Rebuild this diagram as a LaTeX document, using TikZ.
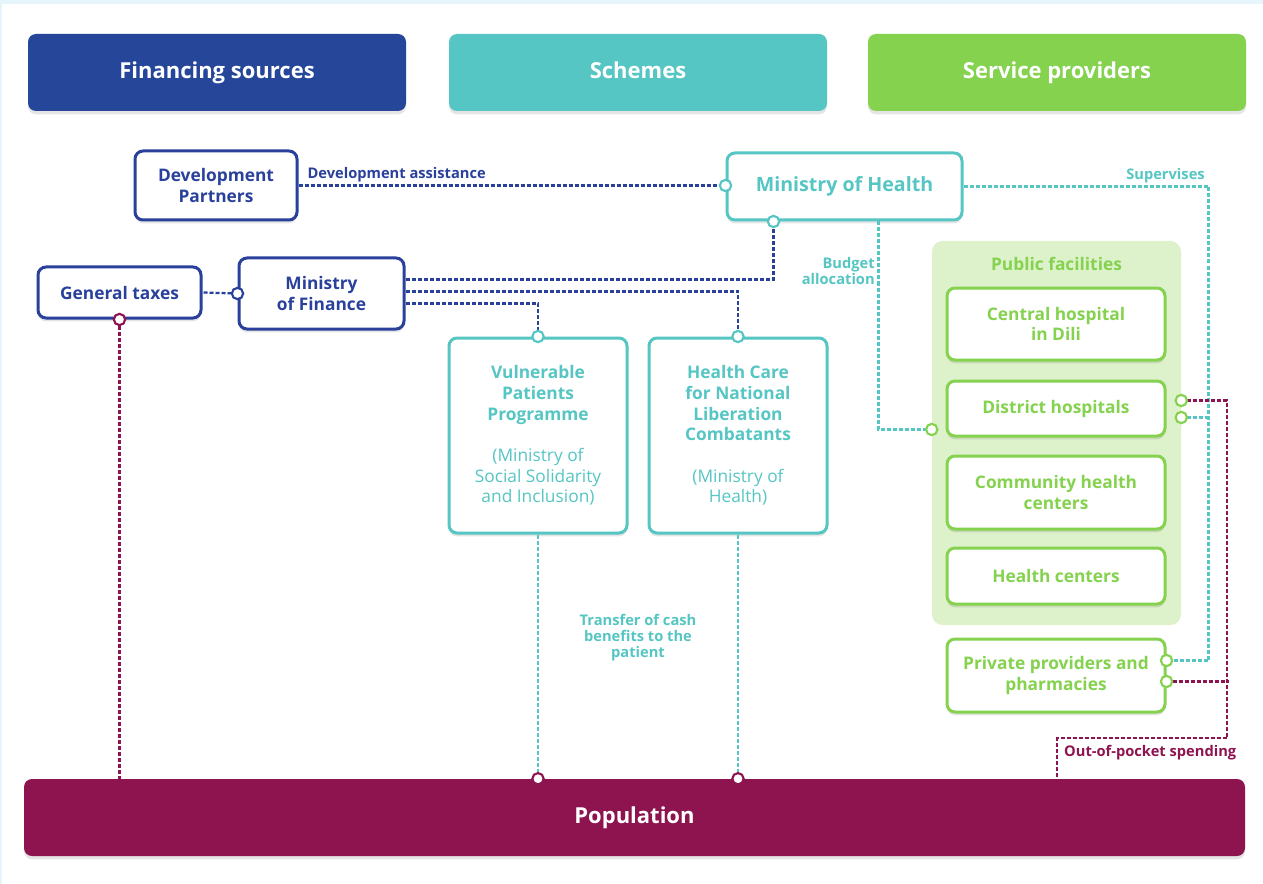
\documentclass[tikz,border=0pt]{standalone}
\usepackage{fontspec}
\setmainfont{Open Sans}
\usetikzlibrary{positioning,calc,shadows}
\definecolor{hfblue}{HTML}{2A419C}
\definecolor{hfhead}{HTML}{26469A}
\definecolor{hfteal}{HTML}{55C6C3}
\definecolor{hfgreen}{HTML}{84D24E}
\definecolor{hfplum}{HTML}{8E1450}
\definecolor{hfpale}{HTML}{DDF1CA}
\definecolor{hfsky}{HTML}{E6F5FB}

\begin{document}
\begin{tikzpicture}[x=0.75pt,y=-0.75pt,font=\bfseries\fontsize{13}{15.6}\selectfont,
  shdw/.style={drop shadow={shadow xshift=0pt,shadow yshift=-2.5pt,opacity=0.10,fill=black}},
  head/.style={rectangle,rounded corners=6pt,fill=#1,text=white,minimum width=283.5pt,minimum height=57.75pt,text height=12pt,text depth=3.5pt,font=\bfseries\fontsize{16.5}{19}\selectfont,shdw},
  src/.style={rectangle,rounded corners=6pt,draw=hfblue,fill=white,line width=2.25pt,text=hfblue,align=center,inner sep=2pt,shdw},
  sch/.style={rectangle,rounded corners=6pt,draw=hfteal,fill=white,line width=2.25pt,text=hfteal,align=center,inner sep=2pt,shdw},
  prov/.style={rectangle,rounded corners=6pt,draw=hfgreen,fill=white,line width=2.25pt,text=hfgreen,align=center,inner sep=2pt,minimum width=163.5pt,shdw},
  grp/.style={rectangle,rounded corners=8pt,fill=hfpale},
  lbl/.style={font=\bfseries\fontsize{11}{12}\selectfont,align=center,inner sep=2pt},
  bl/.style={hfblue,line width=1.7pt,dash pattern=on 3pt off 1.5pt},
  tl/.style={hfteal,line width=1.7pt,dash pattern=on 3pt off 1.5pt},
  pl/.style={hfplum,line width=1.7pt,dash pattern=on 3pt off 1.5pt},
  dot/.style={circle,draw=#1,fill=white,line width=1.6pt,inner sep=0pt,minimum size=8.5pt}]
% frame
\fill[hfsky] (0,0) rectangle (1263,884);
\fill[white] (2,4) rectangle (1263,884);
\useasboundingbox (0,0) rectangle (1263,884);
% column heads
\node[head=hfhead] (fs) at (217,72.5) {Financing sources};
\node[head=hfteal] (sc) at (638,72.5) {Schemes};
\node[head=hfgreen] (sp) at (1057,72.5) {Service providers};
% financing sources
\node[src,minimum width=121.5pt,minimum height=51.75pt] (dp) at (216,185.5) {Development\\Partners};
\node[src,minimum width=122.25pt,minimum height=38.25pt] (gt) at (119.5,292.5) {General taxes};
\node[src,minimum width=123.75pt,minimum height=53.25pt] (mf) at (321.5,293.5) {Ministry\\of Finance};
% schemes
\node[sch,minimum width=176.25pt,minimum height=50.25pt,font=\bfseries\fontsize{14.7}{17}\selectfont] (mh) at (844.5,186.5) {Ministry of Health};
\node[sch,minimum width=133.5pt,minimum height=146.25pt] (vp) at (538,435.5)
  {Vulnerable\\Patients\\Programme\\[15.4pt]\mdseries (Ministry of\\\mdseries Social Solidarity\\\mdseries and Inclusion)};
\node[sch,minimum width=133.5pt,minimum height=146.25pt] (hc) at (738,435.5)
  {Health Care\\for National\\Liberation\\Combatants\\[15.4pt]\mdseries (Ministry of\\\mdseries Health)};
% providers
\node[grp,minimum width=186.75pt,minimum height=288pt] (pf) at (1056.5,433) {};
\node[text=hfgreen] (pft) at ($(pf.north)+(0,23)$) {Public facilities};
\node[prov,minimum height=54pt] (ch) at (1056,324) {Central hospital\\in Dili};
\node[prov,minimum height=41.25pt] (dh) at (1056,408.5) {District hospitals};
\node[prov,minimum height=54.75pt] (cc) at (1056,492.5) {Community health\\centers};
\node[prov,minimum height=42pt] (hs) at (1056,576) {Health centers};
\node[prov,minimum height=54.75pt] (pp) at (1056,675.5) {Private providers and\\pharmacies};
% population
\node[rectangle,rounded corners=6pt,fill=hfplum,text=white,minimum width=915.75pt,minimum height=57.75pt,font=\bfseries\fontsize{16.5}{19}\selectfont,shdw] (pop) at (634.5,817.5) {Population};
% anchors for the connectors
\coordinate (mhb) at ($(mh.south west)+(48,0)$);
\coordinate (mhc) at ($(mh.south west)+(153,0)$);
\coordinate (bud) at ($(pf.west |- dh.south)+(0,-8)$);
\coordinate (dha) at ($(pf.east |- dh.east)+(0,-8)$);
\coordinate (dhb) at ($(pf.east |- dh.east)+(0,9)$);
\coordinate (ppa) at ($(pp.east)+(0,-15)$);
\coordinate (ppb) at ($(pp.east)+(0,6)$);
\coordinate (oop) at ($(pop.north east)+(-188,0)$);
% financing flows
\draw[bl] (dp.east) -- node[lbl,above,pos=0.23,text=hfblue]{Development assistance} (dp.east -| mh.west);
\draw[bl] (mf.west) -- (gt.east);
\draw[bl] ($(mf.east)+(0,-14)$) -| (mhb);
\draw[bl] ($(mf.east)+(0,-2)$) -| (hc.north);
\draw[bl] ($(mf.east)+(0,10)$) -| (vp.north);
\draw[pl] (gt.south) -- (gt.south |- pop.north);
% scheme flows
\draw[tl] (mhc) |- node[lbl,left,pos=0.12,align=right,text=hfteal]{Budget\\allocation} (bud);
\draw[tl] (mh.east) -| node[lbl,pos=0.5,anchor=south east,text=hfteal]{Supervises} ($(ppa)+(42,0)$) -- (ppa);
\draw[tl] (dhb) -- ++(27,0);
\draw[tl] (vp.south) -- (vp.south |- pop.north);
\draw[tl] (hc.south) -- (hc.south |- pop.north);
\node[lbl,text=hfteal] (tr) at ($(vp.south)!0.5!(hc.south)+(0,103)$) {Transfer of cash\\benefits to the\\patient};
% out-of-pocket
\draw[pl] (dha) -| ($(oop)+(170,-41)$) -| (oop);
\draw[pl] (ppb) -- ++(62,0);
\node[lbl,anchor=west,text=hfplum] (op) at ($(oop)+(4,-26)$) {Out-of-pocket spending};
% connector ends
\node[dot=hfteal] at (dp.east -| mh.west) {};
\node[dot=hfblue] at (mf.west) {};
\node[dot=hfplum] at (gt.south) {};
\node[dot=hfteal] at (mhb) {};
\node[dot=hfteal] at (vp.north) {};
\node[dot=hfteal] at (hc.north) {};
\node[dot=hfplum] at (vp.south |- pop.north) {};
\node[dot=hfplum] at (hc.south |- pop.north) {};
\node[dot=hfgreen] at (bud) {};
\node[dot=hfgreen] at (dha) {};
\node[dot=hfgreen] at (dhb) {};
\node[dot=hfgreen] at (ppa) {};
\node[dot=hfgreen] at (ppb) {};
\end{tikzpicture}
\end{document}
